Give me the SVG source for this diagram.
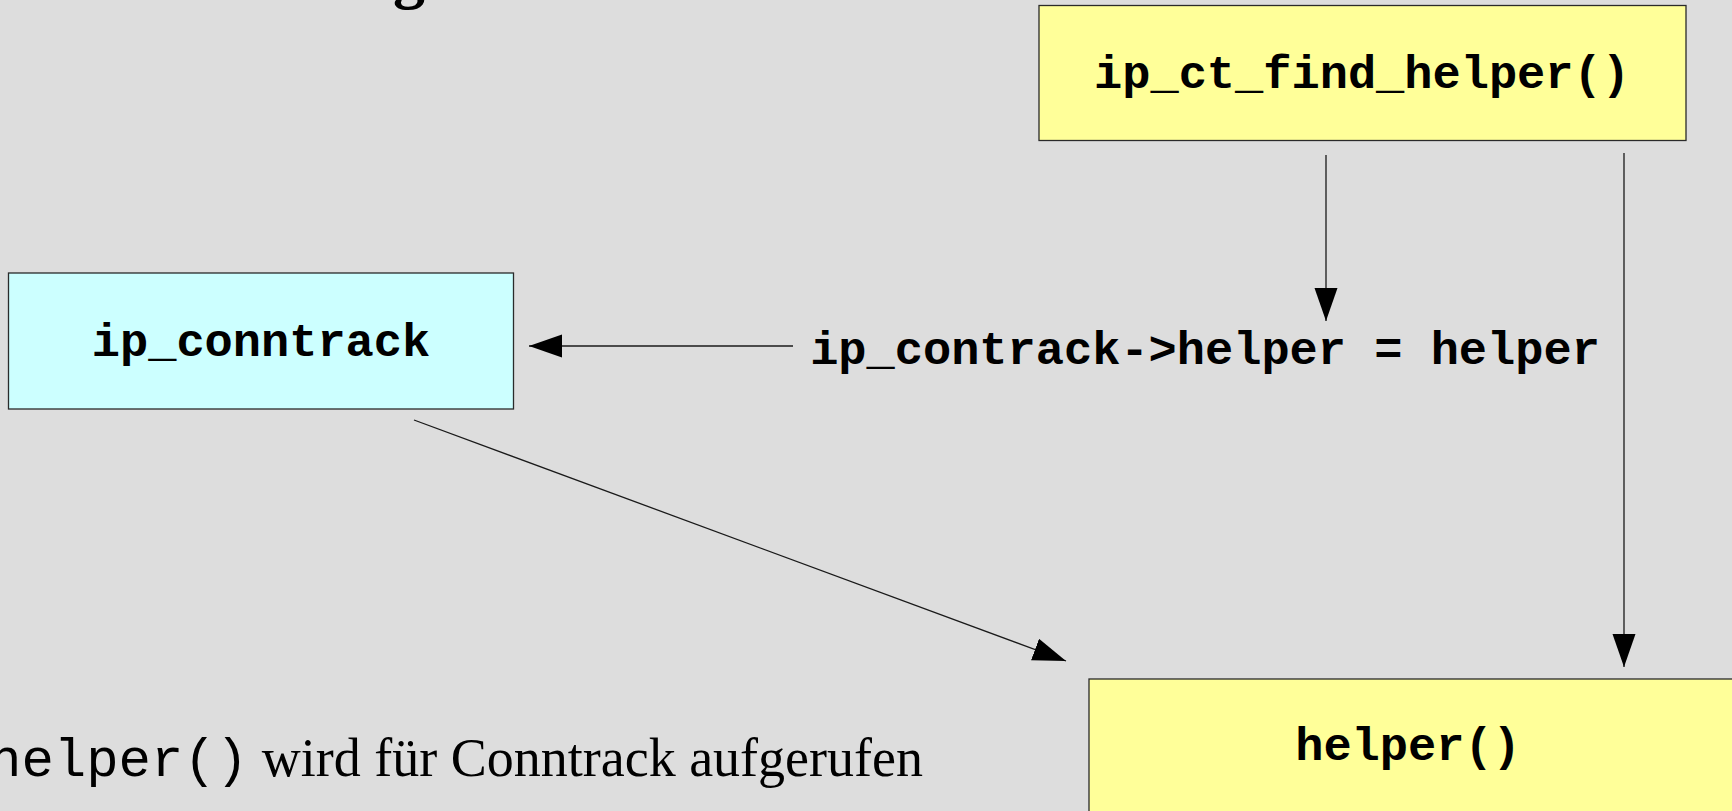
<svg xmlns="http://www.w3.org/2000/svg" width="1732" height="811" viewBox="0 0 1732 811">
<style>
.box{stroke:#2a2a2a;stroke-width:1.3}
.yellow{fill:#ffff99}
.cyan{fill:#ccffff}
.lbl{font-family:"Liberation Mono","Courier New",monospace;font-weight:bold;font-size:47px;fill:#000}
.conn{stroke:#1a1a1a;stroke-width:1.3;fill:none}
</style>
<defs>
<marker id="ah" markerUnits="userSpaceOnUse" markerWidth="34" markerHeight="24" refX="33" refY="11.5" orient="auto">
<path d="M0,0 L33,11.5 L0,23 z" fill="#000"/>
</marker>
</defs>
<rect width="1732" height="811" fill="#dddddd"/>
<text x="393" y="-4" font-family="Liberation Serif,serif" font-weight="bold" font-size="64" fill="#000">g</text>
<g id="node-find-helper">
<rect class="box yellow" x="1039" y="5.5" width="647" height="135"/>
<text class="lbl" x="1362" y="88" text-anchor="middle">ip_ct_find_helper()</text>
</g>
<g id="node-conntrack">
<rect class="box cyan" x="8.5" y="273" width="505" height="136"/>
<text class="lbl" x="261" y="356" text-anchor="middle">ip_conntrack</text>
</g>
<g id="node-helper">
<rect class="box yellow" x="1089" y="679" width="650" height="140"/>
<text class="lbl" x="1408" y="760" text-anchor="middle">helper()</text>
</g>
<g id="label-assign">
<text class="lbl" x="1205" y="364" text-anchor="middle">ip_contrack-&gt;helper = helper</text>
</g>
<g id="connectors">
<line class="conn" x1="1326" y1="155" x2="1326" y2="321" marker-end="url(#ah)"/>
<line class="conn" x1="1624" y1="153" x2="1624" y2="667" marker-end="url(#ah)"/>
<line class="conn" x1="793" y1="346" x2="529" y2="346" marker-end="url(#ah)"/>
<line class="conn" x1="414" y1="420" x2="1066" y2="661" marker-end="url(#ah)"/>
</g>
<g id="caption">
<text x="-11" y="776" font-size="54" fill="#000"><tspan font-family="Liberation Mono,monospace">helper()</tspan><tspan font-family="Liberation Serif,serif"> wird für Conntrack aufgerufen</tspan></text>
</g>
</svg>
